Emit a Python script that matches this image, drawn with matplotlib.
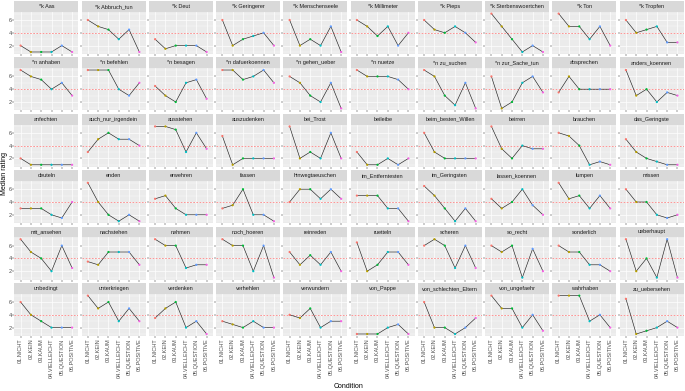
import numpy as np
import matplotlib
matplotlib.use("Agg")
import matplotlib.pyplot as plt

plt.rcParams['font.family'] = ['Liberation Sans', 'DejaVu Sans']

conditions = ['01.NICHT', '02.KEIN', '03.KAUM', '04.VIELLEICHT', '05.QUESTION', '06.POSITIVE']
cond_colors = ['#F8766D', '#B79F00', '#00BA38', '#00BFC4', '#619CFF', '#F564E3']

items = ['*k Aas', '*k Abbruch_tun', '*k Deut', '*k Geringerer', '*k Menschenseele',
         '*k Millimeter', '*k Pieps', '*k Sterbenswoertchen', '*k Ton', '*k Tropfen',
         '*n anhaben', '*n befehlen', '*n besagen', '*n dafuerkoennen', '*n gehen_ueber',
         '*n nuetze', '*n zu_suchen', '*n zur_Sache_tun', 'absprechen', 'anders_koennen',
         'anfechten', 'auch_nur_irgendein', 'ausstehen', 'auszudenken', 'bei_Trost',
         'beileibe', 'beim_besten_Willen', 'beirren', 'brauchen', 'das_Geringste',
         'deuteln', 'enden', 'erwehren', 'fassen', 'hinwegtaeuschen',
         'im_Entferntesten', 'im_Geringsten', 'lassen_koennen', 'lumpen', 'missen',
         'mit_ansehen', 'nachstehen', 'nehmen', 'noch_hoeren', 'reinreden',
         'ruetteln', 'scheren', 'so_recht', 'sonderlich', 'ueberhaupt',
         'unbedingt', 'unterkriegen', 'verdenken', 'verhehlen', 'verwundern',
         'von_Pappe', 'von_schlechten_Eltern', 'von_ungefaehr', 'wahrhaben', 'zu_uebersehen']

# median ratings per item, one list per facet row
row1 = [[2, 1, 1, 1, 2, 1], [6, 5, 4.5, 3, 4.5, 1], [3, 1.5, 2, 2, 2, 1], [6, 2, 3, 3.5, 4, 2],
        [6, 2, 3, 2, 5, 1], [6, 5, 3.5, 5, 2, 4], [6, 4.5, 4, 5, 4, 2.5], [7, 5, 3, 1, 2, 1],
        [7, 5, 5, 3, 5, 2], [6, 4, 4.5, 5, 2.5, 2.5]]
row2 = [[7, 6, 5.5, 4, 5, 3], [7, 7, 7, 4, 3, 5], [4.5, 3, 2, 5, 5.5, 2.5], [7, 7, 5.5, 6, 7, 5],
        [6, 5, 3, 2, 5, 1], [7, 6, 6, 6, 5.5, 4], [7, 6, 3, 1.5, 5, 1], [6, 1, 2, 5, 6, 3.5],
        [3.5, 6, 4, 4, 4, 4], [7, 3, 4, 2, 3.5, 3]]
row3 = [[2, 1, 1, 1, 1, 1], [3, 5, 6, 5, 5, 4], [7, 7, 6.5, 3, 6, 3.5], [5.5, 1, 2, 2, 2, 2],
        [7, 2, 3, 2, 6, 2], [3, 1, 1, 2, 1, 2], [6, 3, 2, 2, 2, 2], [7, 3.5, 2, 4, 3.5, 3.5],
        [6, 5.5, 4, 1, 1.5, 1], [5, 3, 2, 1.5, 1, 1]]
row4 = [[3, 3, 3, 2, 1.5, 4], [7, 4, 2, 1, 2, 1], [4.5, 5, 3, 2, 2, 2], [3, 3.5, 6, 2, 2, 1],
        [4, 6, 6, 4.5, 6, 4.5], [5, 5, 5, 3, 3, 1], [6.5, 5, 3, 1, 3, 1], [4.5, 3, 4, 6, 3.5, 2],
        [7, 4.5, 5, 3, 5, 3], [6, 4, 4, 2, 1.5, 2]]
row5 = [[7, 5, 4, 2, 6, 2.5], [3.5, 3, 5, 5, 5, 3], [7, 6, 6, 2.5, 3, 3], [7, 6, 6, 2, 6, 1],
        [5, 3, 4.5, 3, 5, 2], [6.5, 2, 3, 5, 5, 3], [6, 7, 6, 2.5, 6, 2.5], [6, 5, 6, 1, 5.5, 2],
        [6, 5, 5, 3, 3, 2], [7, 2, 4, 1, 7, 1]]
row6 = [[6, 4, 3, 2, 2, 2], [7, 5, 6, 3, 5, 3], [3.5, 5, 6, 2, 3, 1], [3, 2.5, 2, 3, 2, 2],
        [4, 3.5, 5, 2, 3, 3], [1, 1, 1, 2, 2.5, 1], [6, 2, 2, 1, 2, 3.5], [7, 5, 5, 2, 4, 1.5],
        [7, 7, 7, 3, 4, 2], [6.5, 1, 1.5, 2, 3, 2]]

ratings = row1 + row2 + row3 + row4 + row5 + row6

W, H = 685, 391
fig = plt.figure(figsize=(W / 100, H / 100), dpi=100)

# layout in pixels
left0 = 14.4
panel_w = 63.9
pitch_x = 67.26
top0 = 11.7
panel_h = 42.2
pitch_y = 56.4
strip_h = 10.6

x = np.arange(1, len(conditions) + 1)
ncol, nrow = 10, 6

for i, (name, vals) in enumerate(zip(items, ratings)):
    r, c = divmod(i, ncol)
    px = left0 + c * pitch_x
    py = top0 + r * pitch_y
    ax = fig.add_axes([px / W, 1 - (py + panel_h) / H, panel_w / W, panel_h / H])
    ax.set_facecolor('#EBEBEB')
    for s in ax.spines.values():
        s.set_visible(False)
    ax.set_xlim(0.4, 6.6)
    ax.set_ylim(0.7, 7.3)
    ax.set_xticks(x)
    ax.set_yticks([2, 4, 6])
    ax.set_yticks([1, 3, 5, 7], minor=True)
    ax.grid(True, which='major', color='white', lw=0.5)
    ax.grid(True, which='minor', axis='y', color='white', lw=0.25)
    ax.set_axisbelow(True)
    ax.tick_params(which='major', length=1.2, width=0.35, color='#333333',
                   labelsize=4.0, labelcolor='#4D4D4D', pad=0.8)
    ax.tick_params(which='minor', length=0)

    ax.axhline(4, color='red', lw=0.5, alpha=0.55, dashes=(2.5, 2), zorder=2)
    ax.plot(x, vals, color='#222222', lw=0.45, zorder=3)
    ax.scatter(x, vals, c=cond_colors, s=2.6, linewidths=0, zorder=4)

    if r == nrow - 1:
        ax.set_xticklabels(conditions, rotation=90)
    else:
        ax.set_xticklabels([])
    if c == 0:
        ax.set_yticklabels(['2', '4', '6'])
    else:
        ax.set_yticklabels([])

    sax = fig.add_axes([px / W, 1 - py / H, panel_w / W, strip_h / H])
    sax.set_facecolor('#D9D9D9')
    sax.set_xticks([])
    sax.set_yticks([])
    for s in sax.spines.values():
        s.set_visible(False)
    sax.text(0.5, 0.5, name, ha='center', va='center', fontsize=4.0,
             color='#1A1A1A', transform=sax.transAxes, clip_on=True)

grid_mid_x = left0 + (9 * pitch_x + panel_w) / 2
grid_mid_y = top0 + (5 * pitch_y + panel_h) / 2
fig.text(grid_mid_x / W, 1 - 386 / H, 'Condition', ha='center', va='center', fontsize=5.0)
fig.text(5 / W, 1 - grid_mid_y / H, 'Median rating', ha='center', va='center',
         rotation=90, fontsize=5.0)

plt.savefig('out.png', dpi=100)
